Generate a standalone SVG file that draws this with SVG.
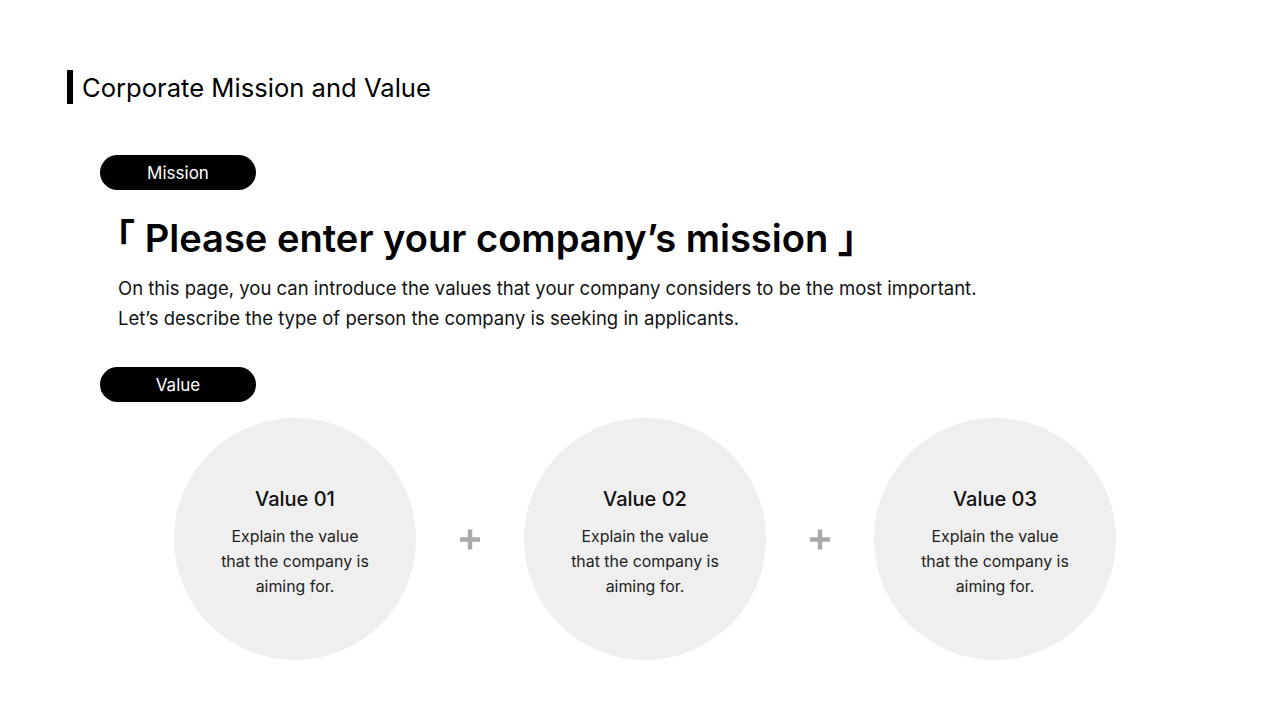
<svg xmlns="http://www.w3.org/2000/svg" width="1280" height="720" viewBox="0 0 1280 720">
<style>
text{font-family:Inter,"Noto Sans CJK JP","Noto Sans",sans-serif;}
.pill{fill:#000;}
.pilltxt{fill:#fff;font-size:17px;text-anchor:middle;}
.circ{fill:#efefef;}
.vt{font-size:20px;font-weight:500;text-anchor:middle;fill:#111;}
.vd{font-size:15.9px;text-anchor:middle;fill:#222;}
.plus{stroke:#aaa;stroke-width:4.5;}
</style>
<rect width="1280" height="720" fill="#fff"/>
<g id="title">
<rect x="67" y="70" width="6" height="34" fill="#000"/>
<text x="82" y="97" font-size="25.6" fill="#000">Corporate Mission and Value</text>
</g>
<g id="mission-label">
<rect class="pill" x="100" y="155" width="156" height="35" rx="17.5"/>
<text class="pilltxt" x="178" y="178.5">Mission</text>
</g>
<g id="mission-text">
<text x="97" y="252" font-size="38.1" font-weight="600" fill="#000">「 Please enter your company’s mission 」</text>
<text x="118" y="295" font-size="18.5" fill="#111">On this page, you can introduce the values that your company considers to be the most important.</text>
<text x="118" y="325" font-size="18.5" fill="#111">Let’s describe the type of person the company is seeking in applicants.</text>
</g>
<g id="value-label">
<rect class="pill" x="100" y="367" width="156" height="35" rx="17.5"/>
<text class="pilltxt" x="178" y="390.5">Value</text>
</g>
<g id="value01">
<circle class="circ" cx="295" cy="539" r="121"/>
<text class="vt" x="295" y="506">Value 01</text>
<text class="vd" x="295" y="542">Explain the value</text>
<text class="vd" x="295" y="567">that the company is</text>
<text class="vd" x="295" y="592">aiming for.</text>
</g>
<g id="value02">
<circle class="circ" cx="645" cy="539" r="121"/>
<text class="vt" x="645" y="506">Value 02</text>
<text class="vd" x="645" y="542">Explain the value</text>
<text class="vd" x="645" y="567">that the company is</text>
<text class="vd" x="645" y="592">aiming for.</text>
</g>
<g id="value03">
<circle class="circ" cx="995" cy="539" r="121"/>
<text class="vt" x="995" y="506">Value 03</text>
<text class="vd" x="995" y="542">Explain the value</text>
<text class="vd" x="995" y="567">that the company is</text>
<text class="vd" x="995" y="592">aiming for.</text>
</g>
<g id="connectors">
<path class="plus" d="M460 539.5H480M470 529.5V549.5"/>
<path class="plus" d="M810 539.5H830M820 529.5V549.5"/>
</g>
</svg>
